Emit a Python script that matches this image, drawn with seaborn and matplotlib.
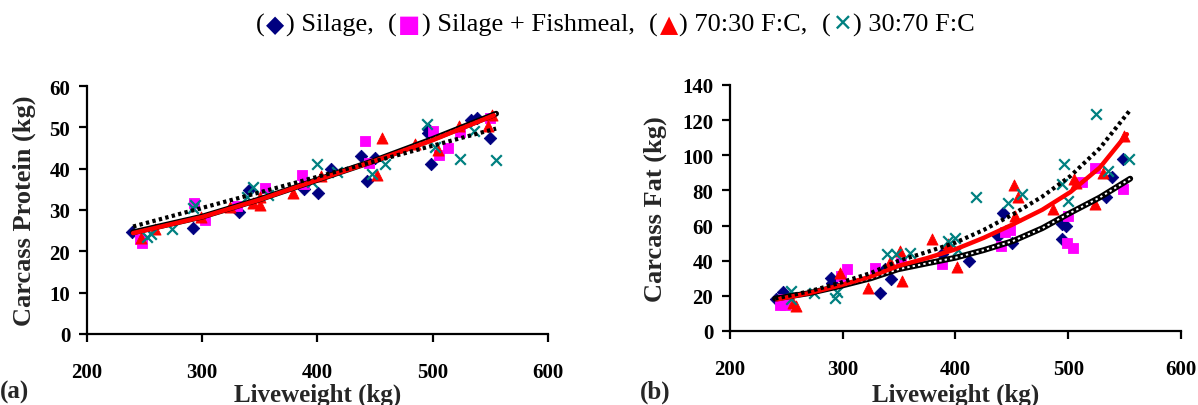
import matplotlib
matplotlib.use("Agg")
import matplotlib.pyplot as plt
import seaborn as sns
import pandas as pd
from matplotlib.offsetbox import TextArea, HPacker, AnchoredOffsetbox

# ---------------- data : panel (a) carcass protein ----------------
a_sil_x = [238.9, 291.7, 332.1, 340.5, 388.7, 400.3, 412.0, 438.0, 443.0, 450.3, 495.5, 496.2, 498.5, 533.5, 538.5, 549.4]
a_sil_y = [24.7, 25.6, 29.4, 34.8, 35.2, 34.2, 40.0, 43.0, 37.1, 42.6, 49.6, 48.7, 41.1, 51.7, 52.3, 47.3]
a_fish_x = [245.6, 247.6, 292.9, 302.3, 329.8, 354.4, 386.4, 388.7, 441.0, 444.3, 500.2, 505.2, 513.5, 523.5, 549.4]
a_fish_y = [23.0, 21.9, 31.6, 27.7, 31.0, 35.4, 38.4, 36.2, 46.6, 41.4, 49.0, 43.4, 45.1, 48.9, 52.3]
a_7030_x = [247.3, 258.9, 298.8, 323.8, 343.8, 350.4, 350.4, 378.8, 403.3, 451.6, 456.2, 484.5, 505.0, 522.8, 548.4, 551.1]
a_7030_y = [23.3, 25.5, 28.3, 30.8, 31.6, 31.3, 33.2, 34.0, 38.3, 38.5, 47.3, 46.0, 44.6, 50.3, 50.3, 52.9]
a_3070_x = [252.3, 255.6, 273.9, 292.2, 293.9, 338.8, 344.4, 357.1, 395.4, 399.7, 417.0, 447.0, 458.6, 495.0, 501.9, 523.5, 536.1, 555.1]
a_3070_y = [23.5, 24.3, 25.5, 30.4, 31.2, 33.2, 35.6, 33.7, 36.8, 41.2, 39.2, 38.8, 41.2, 50.8, 45.3, 42.3, 49.0, 42.0]

# fitted trend lines
a_dot_x = [240, 555]
a_dot_y = [26.0, 49.7]
a_red_x = [240, 300, 350, 400, 450, 500, 553]
a_red_y = [24.4, 28.3, 32.5, 37.3, 41.9, 46.9, 52.9]
a_circ_x = [240, 300, 350, 400, 450, 500, 555]
a_circ_y = [24.6, 28.4, 32.6, 37.3, 42.0, 47.2, 53.3]

# ---------------- data : panel (b) carcass fat ----------------
b_sil_x = [240.7, 246.8, 289.8, 290.5, 333.2, 337.3, 342.4, 388.1, 411.9, 437.3, 442.4, 450.2, 494.2, 494.9, 498.3, 533.9, 539.0, 548.5]
b_sil_y = [18.0, 22.2, 30.4, 27.5, 21.8, 35.1, 29.4, 43.6, 39.6, 54.1, 67.3, 50.3, 52.5, 60.7, 59.8, 76.4, 87.8, 98.1]
b_fish_x = [244.0, 249.0, 247.5, 298.3, 303.4, 328.8, 352.0, 388.1, 440.7, 444.1, 448.1, 500.0, 499.0, 504.1, 512.5, 523.7, 548.5]
b_fish_y = [14.6, 14.6, 18.0, 31.3, 35.1, 36.0, 38.5, 38.3, 48.4, 56.3, 57.5, 65.4, 49.9, 47.4, 85.0, 92.9, 80.6]
b_7030_x = [256.0, 258.3, 297.6, 322.0, 341.7, 350.8, 352.5, 379.0, 393.0, 401.7, 451.5, 455.3, 452.5, 486.4, 506.8, 505.0, 523.7, 530.5, 549.2]
b_7030_y = [16.1, 14.2, 33.2, 24.7, 39.3, 45.5, 28.5, 52.2, 49.5, 36.6, 82.9, 76.5, 65.5, 69.2, 84.4, 86.3, 72.1, 89.7, 111.0]
b_3070_x = [254.2, 254.0, 274.6, 293.2, 294.9, 339.0, 347.5, 359.3, 393.2, 400.0, 402.0, 418.6, 446.8, 459.3, 496.6, 494.9, 500.0, 524.4, 535.0, 554.2]
b_3070_y = [22.8, 18.0, 21.4, 19.0, 22.2, 43.6, 43.6, 44.2, 51.2, 53.1, 46.0, 76.3, 73.0, 77.8, 94.9, 83.5, 74.0, 123.3, 91.1, 98.1]

# fitted trend lines
b_dot_x = [240, 270, 298, 325, 349, 375, 400, 425, 451, 477, 502, 528, 554]
b_dot_y = [18.4, 22.5, 27.5, 33.0, 39.8, 45.0, 50.3, 57.5, 66.4, 76.5, 88.2, 104.0, 125.0]
b_red_x = [242, 270, 298, 325, 349, 375, 400, 425, 451, 477, 502, 528, 552]
b_red_y = [18.0, 21.5, 26.0, 31.0, 37.0, 41.5, 46.5, 53.0, 60.7, 69.0, 79.1, 93.0, 112.0]
b_circ_x = [240, 270, 298, 325, 349, 375, 400, 425, 451, 477, 502, 528, 555]
b_circ_y = [18.4, 21.5, 25.6, 30.0, 35.1, 38.5, 41.7, 46.0, 51.2, 58.5, 67.3, 76.0, 86.7]

series_names = ["Silage", "Silage + Fishmeal", "70:30 F:C", "30:70 F:C"]
series_colors = ["#000080", "#FF00FF", "#FF0000", "#008080"]
series_markers = ["D", "s", "^", "x"]
series_sizes = [40, 42, 64, 58]

# ---------------- style ----------------
sns.set_theme(style="white")
plt.rcParams["font.family"] = ["Liberation Serif", "DejaVu Sans"]
plt.rcParams["font.weight"] = "bold"

fig = plt.figure(figsize=(11.98, 4.06), dpi=100)
axA = fig.add_axes([0.0726, 0.1749, 0.3848, 0.6108])
axB = fig.add_axes([0.6093, 0.1823, 0.3765, 0.6059])


def draw_panel(ax, pts, lines, ylim, yticks, ylabel, ylabel_x, xlabel_y):
    for (xs, ys), c, m, s in zip(pts, series_colors, series_markers, series_sizes):
        df = pd.DataFrame({"x": xs, "y": ys})
        if m == "x":
            sns.scatterplot(data=df, x="x", y="y", ax=ax, marker="x", color=c,
                            s=s, linewidth=1.6, zorder=3)
        else:
            sns.scatterplot(data=df, x="x", y="y", ax=ax, marker=m, color=c,
                            s=s, edgecolor=c, linewidth=0.6, zorder=3)
    (dx, dy), (rx, ry), (cx, cy) = lines
    # open-circle chain line
    dfc = pd.DataFrame({"x": cx, "y": cy})
    sns.lineplot(data=dfc, x="x", y="y", ax=ax, color="black", linewidth=4.2,
                 zorder=4, sort=False)
    sns.lineplot(data=dfc, x="x", y="y", ax=ax, color="white", linewidth=1.4,
                 linestyle=(0, (1.2, 1.6)), zorder=4.1, sort=False)
    # red solid line
    sns.lineplot(data=pd.DataFrame({"x": rx, "y": ry}), x="x", y="y", ax=ax,
                 color="#FF0000", linewidth=3.2, zorder=5, sort=False)
    # square-dot black line
    sns.lineplot(data=pd.DataFrame({"x": dx, "y": dy}), x="x", y="y", ax=ax,
                 color="black", linewidth=3.0, linestyle=(0, (0.8, 0.8)),
                 zorder=6, sort=False)

    ax.set_xlim(200, 600)
    ax.set_ylim(*ylim)
    ax.set_xticks([200, 300, 400, 500, 600])
    ax.set_yticks(yticks)
    for sp in ["top", "right"]:
        ax.spines[sp].set_visible(False)
    for sp in ["left", "bottom"]:
        ax.spines[sp].set_color("black")
        ax.spines[sp].set_linewidth(1.6)
    ax.tick_params(axis="both", direction="out", length=6, width=1.6,
                   colors="black", labelsize=15)
    ax.tick_params(axis="x", pad=14, bottom=True)
    ax.tick_params(axis="y", pad=6, left=True)
    for lab in ax.get_xticklabels() + ax.get_yticklabels():
        lab.set_fontweight("bold")
        lab.set_family("Liberation Serif")
    ax.set_xlabel("Liveweight (kg)", fontsize=18, fontweight="bold",
                  family="Liberation Serif")
    ax.set_ylabel(ylabel, fontsize=19, fontweight="bold", family="Liberation Serif")
    ax.xaxis.set_label_coords(0.5, xlabel_y)
    ax.yaxis.set_label_coords(ylabel_x, 0.5)
    ax.grid(False)
    ax.set_facecolor("white")


draw_panel(axA,
           [(a_sil_x, a_sil_y), (a_fish_x, a_fish_y), (a_7030_x, a_7030_y), (a_3070_x, a_3070_y)],
           [(a_dot_x, a_dot_y), (a_red_x, a_red_y), (a_circ_x, a_circ_y)],
           (0, 60), [0, 10, 20, 30, 40, 50, 60], "Carcass Protein (kg)", -0.11, -0.195)
draw_panel(axB,
           [(b_sil_x, b_sil_y), (b_fish_x, b_fish_y), (b_7030_x, b_7030_y), (b_3070_x, b_3070_y)],
           [(b_dot_x, b_dot_y), (b_red_x, b_red_y), (b_circ_x, b_circ_y)],
           (0, 140), [0, 20, 40, 60, 80, 100, 120, 140], "Carcass Fat (kg)", -0.14, -0.21)

fig.text(0.0, 1 - 392 / 406, "(a)", fontsize=18, fontweight="bold",
         family="Liberation Serif", va="center", ha="left")
fig.text(640 / 1198, 1 - 392 / 406, "(b)", fontsize=18, fontweight="bold",
         family="Liberation Serif", va="center", ha="left")

# ---------------- header key ----------------
fam = ["Liberation Serif", "DejaVu Sans"]
base = dict(fontsize=19, fontweight="normal", family=fam, color="black")
glyphs = ["\u25C6", "\u25A0", "\u25B2", "\u2715"]
parts = []
for i, (name, col, g) in enumerate(zip(series_names, series_colors, glyphs)):
    parts.append(TextArea("(", textprops=base))
    parts.append(TextArea(g, textprops=dict(fontsize=17, family=["DejaVu Sans"], color=col)))
    sep = "," if i < len(series_names) - 1 else ""
    parts.append(TextArea(") " + name + sep + "  ", textprops=base))
box = HPacker(children=parts, align="baseline", pad=0, sep=1)
anch = AnchoredOffsetbox(loc="center", child=box, frameon=False,
                         bbox_to_anchor=(622 / 1198, 1 - 25 / 406),
                         bbox_transform=fig.transFigure, borderpad=0)
fig.add_artist(anch)

fig.savefig("out.png", dpi=100, facecolor="white")
